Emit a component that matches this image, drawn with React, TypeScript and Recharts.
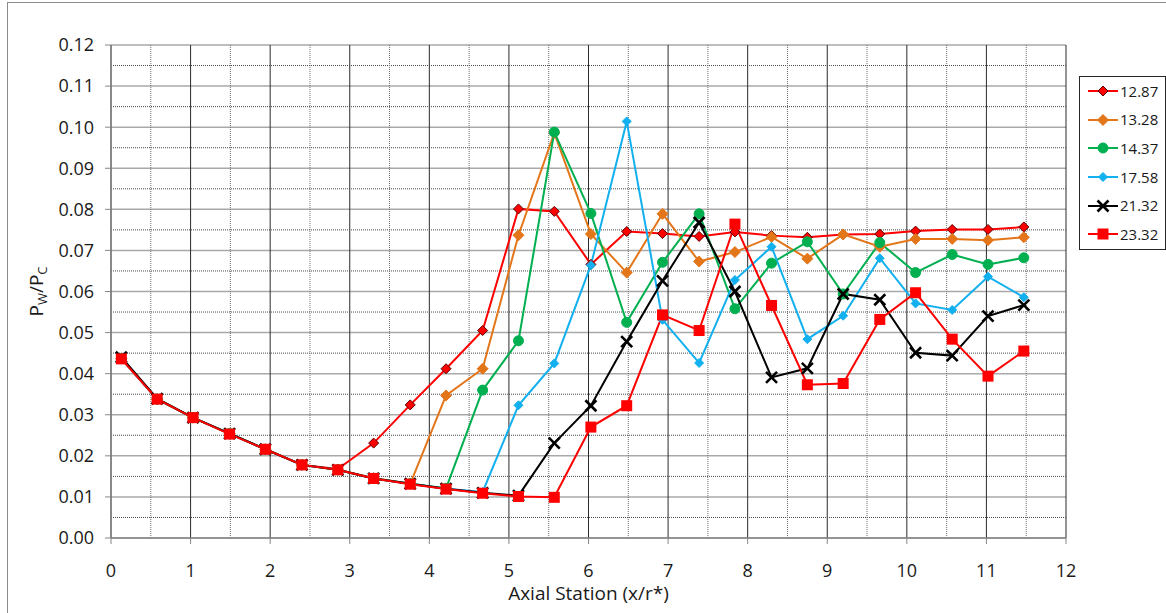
import {
  CartesianGrid,
  Label,
  Line,
  LineChart,
  ReferenceLine,
  XAxis,
  YAxis,
} from "recharts";

// axial stations (x/r*)
const stations = [
  0.13, 0.58, 1.03, 1.49, 1.94, 2.4, 2.85, 3.3, 3.76, 4.21, 4.67, 5.12, 5.57,
  6.03, 6.48, 6.93, 7.39, 7.84, 8.3, 8.75, 9.2, 9.66, 10.11, 10.57, 11.02, 11.47,
];

// Pw/Pc for each run
const run1287 = [
  0.0437, 0.0338, 0.0293, 0.0254, 0.0216, 0.0178, 0.0168, 0.0231, 0.0324,
  0.0412, 0.0505, 0.0801, 0.0795, 0.0666, 0.0746, 0.0741, 0.0734, 0.0745,
  0.0736, 0.0732, 0.0739, 0.074, 0.0747, 0.0751, 0.0751, 0.0757,
];
const run1328 = [
  0.0437, 0.0338, 0.0293, 0.0254, 0.0216, 0.0178, 0.0166, 0.0146, 0.0132,
  0.0347, 0.0412, 0.0737, 0.0986, 0.074, 0.0646, 0.0789, 0.0673, 0.0696,
  0.0733, 0.068, 0.0739, 0.0709, 0.0728, 0.0728, 0.0725, 0.0732,
];
const run1437 = [
  0.0437, 0.0338, 0.0293, 0.0254, 0.0216, 0.0178, 0.0166, 0.0145, 0.0132,
  0.0121, 0.036, 0.048, 0.0988, 0.079, 0.0525, 0.0671, 0.0789, 0.0558,
  0.0669, 0.0721, 0.0594, 0.0719, 0.0646, 0.069, 0.0666, 0.0682,
];
const run1758 = [
  0.0437, 0.0338, 0.0293, 0.0254, 0.0216, 0.0178, 0.0166, 0.0145, 0.0132,
  0.012, 0.0112, 0.0323, 0.0425, 0.0664, 0.1014, 0.0531, 0.0426, 0.0628,
  0.0709, 0.0484, 0.0541, 0.0681, 0.0571, 0.0555, 0.0636, 0.0586,
];
const run2132 = [
  0.044, 0.0339, 0.0293, 0.0254, 0.0216, 0.0178, 0.0166, 0.0145, 0.0132,
  0.012, 0.011, 0.0103, 0.0231, 0.0322, 0.0478, 0.0626, 0.0768, 0.06,
  0.0391, 0.0413, 0.0594, 0.058, 0.0451, 0.0444, 0.054, 0.0567,
];
const run2332 = [
  0.0436, 0.0338, 0.0293, 0.0253, 0.0216, 0.0178, 0.0166, 0.0145, 0.0131,
  0.0119, 0.0109, 0.0101, 0.0099, 0.027, 0.0322, 0.0543, 0.0505, 0.0764,
  0.0566, 0.0373, 0.0376, 0.0532, 0.0597, 0.0484, 0.0394, 0.0455,
];

const xTicks = [0, 1, 2, 3, 4, 5, 6, 7, 8, 9, 10, 11, 12];
const xMinor = [0.5, 1.5, 2.5, 3.5, 4.5, 5.5, 6.5, 7.5, 8.5, 9.5, 10.5, 11.5];
const yTicks = [0, 0.01, 0.02, 0.03, 0.04, 0.05, 0.06, 0.07, 0.08, 0.09, 0.1, 0.11, 0.12];
const yMinor = [0.005, 0.015, 0.025, 0.035, 0.045, 0.055, 0.065, 0.075, 0.085, 0.095, 0.105, 0.115];

const series = [
  { key: "r1287", name: "12.87", values: run1287, color: "#ff0000", marker: "diamond" },
  { key: "r1328", name: "13.28", values: run1328, color: "#e4761a", marker: "bigDiamond" },
  { key: "r1437", name: "14.37", values: run1437, color: "#00b050", marker: "circle" },
  { key: "r1758", name: "17.58", values: run1758, color: "#12b0ef", marker: "smallDiamond" },
  { key: "r2132", name: "21.32", values: run2132, color: "#000000", marker: "cross" },
  { key: "r2332", name: "23.32", values: run2332, color: "#ff0000", marker: "square" },
];

const data = stations.map((x, i) => {
  const row: Record<string, number> = { x };
  series.forEach((s) => {
    row[s.key] = s.values[i];
  });
  return row;
});

const FONT = "'Open Sans', sans-serif";

function Marker({ kind, cx, cy, color }: { kind: string; cx: number; cy: number; color: string }) {
  if (kind === "diamond") {
    const r = 5;
    return (
      <polygon
        points={`${cx},${cy - r} ${cx + r},${cy} ${cx},${cy + r} ${cx - r},${cy}`}
        fill={color}
        stroke="#5a0000"
        strokeWidth={1}
      />
    );
  }
  if (kind === "bigDiamond" || kind === "smallDiamond") {
    const r = kind === "bigDiamond" ? 5.5 : 4.5;
    return (
      <polygon
        points={`${cx},${cy - r} ${cx + r},${cy} ${cx},${cy + r} ${cx - r},${cy}`}
        fill={color}
        stroke={color}
      />
    );
  }
  if (kind === "circle") {
    return <circle cx={cx} cy={cy} r={5} fill={color} stroke={color} />;
  }
  if (kind === "cross") {
    const r = 5.5;
    return (
      <g stroke={color} strokeWidth={2.6}>
        <line x1={cx - r} y1={cy - r} x2={cx + r} y2={cy + r} />
        <line x1={cx - r} y1={cy + r} x2={cx + r} y2={cy - r} />
      </g>
    );
  }
  const h = 5.5;
  return <rect x={cx - h} y={cy - h} width={h * 2} height={h * 2} fill={color} />;
}

const dotFor = (kind: string, color: string) => (props: any) => {
  const { cx, cy, index } = props;
  if (cx == null || cy == null) return <g key={index} />;
  return (
    <g key={index}>
      <Marker kind={kind} cx={cx} cy={cy} color={color} />
    </g>
  );
};

const YTitle = (props: any) => {
  const vb = props.viewBox || { y: 45, height: 493 };
  const cy = vb.y + vb.height / 2;
  const cx = 43;
  return (
    <text
      x={cx}
      y={cy}
      transform={`rotate(-90, ${cx}, ${cy})`}
      textAnchor="middle"
      fontFamily={FONT}
      fontSize={19}
      fill="#1a1a1a"
    >
      <tspan>P</tspan>
      <tspan fontSize={13} dy={4}>W</tspan>
      <tspan dy={-4}>/P</tspan>
      <tspan fontSize={13} dy={4}>C</tspan>
    </text>
  );
};

const ChartLegend = () => (
  <div
    style={{
      position: "absolute",
      left: 1079,
      top: 76,
      width: 87,
      boxSizing: "border-box",
      border: "1px solid #262626",
      background: "#fff",
      fontFamily: FONT,
      fontSize: 15,
      color: "#1a1a1a",
    }}
  >
    {series.map((s) => (
      <div
        key={s.key}
        style={{ height: 28.6, display: "flex", alignItems: "center", paddingLeft: 8 }}
      >
        <svg width={30} height={14} style={{ display: "block" }}>
          <line x1={0} y1={7} x2={30} y2={7} stroke={s.color} strokeWidth={2} />
          <Marker kind={s.marker} cx={15} cy={7} color={s.color} />
        </svg>
        <span style={{ marginLeft: 2, lineHeight: "15px" }}>{s.name}</span>
      </div>
    ))}
  </div>
);

export default function App() {
  return (
    <div style={{ position: "relative", width: 1166, height: 613, background: "#fff", overflow: "hidden" }}>
      <style>{"body{margin:0;overflow:hidden}"}</style>
      <div
        style={{
          position: "absolute",
          left: 7,
          top: 2,
          width: 1200,
          height: 700,
          borderLeft: "1px solid #8c8c8c",
          borderTop: "1px solid #8c8c8c",
        }}
      />
      <div style={{ position: "absolute", left: 0, top: 0 }}>
        <LineChart
          width={1166}
          height={613}
          data={data}
          margin={{ top: 45, right: 100, bottom: 30, left: 51 }}
        >
          <CartesianGrid vertical={false} stroke="#a9a9a9" strokeWidth={1.5} />
          <CartesianGrid horizontal={false} stroke="#2b2b2b" strokeWidth={1} />
          {yMinor.map((v) => (
            <ReferenceLine key={`ym${v}`} y={v} stroke="#4a4a4a" strokeDasharray="1 1" />
          ))}
          {xMinor.map((v) => (
            <ReferenceLine key={`xm${v}`} x={v} stroke="#6e6e6e" strokeDasharray="1 1" />
          ))}
          <XAxis
            dataKey="x"
            type="number"
            domain={[0, 12]}
            ticks={xTicks}
            interval={0}
            height={45}
            axisLine={{ stroke: "#868686", strokeWidth: 1.5 }}
            tickLine={{ stroke: "#868686" }}
            tickSize={6}
            tickMargin={20}
            tick={{ fontFamily: FONT, fontSize: 18, fill: "#1a1a1a" }}
          >
            <Label
              value="Axial Station (x/r*)"
              position="bottom"
              offset={4}
              style={{ fontFamily: FONT, fontSize: 19, fill: "#1a1a1a" }}
            />
          </XAxis>
          <YAxis
            type="number"
            domain={[0, 0.12]}
            ticks={yTicks}
            interval={0}
            width={60}
            axisLine={{ stroke: "#868686", strokeWidth: 1.5 }}
            tickLine={{ stroke: "#868686" }}
            tickSize={6}
            tickMargin={11}
            tickFormatter={(v: number) => v.toFixed(2)}
            tick={{ fontFamily: FONT, fontSize: 18, fill: "#1a1a1a" }}
          >
            <Label content={YTitle} />
          </YAxis>
          {series.map((s) => (
            <Line
              key={s.key}
              type="linear"
              dataKey={s.key}
              name={s.name}
              stroke={s.color}
              strokeWidth={2}
              dot={dotFor(s.marker, s.color)}
              activeDot={false}
              isAnimationActive={false}
            />
          ))}
        </LineChart>
      </div>
      <ChartLegend />
    </div>
  );
}
